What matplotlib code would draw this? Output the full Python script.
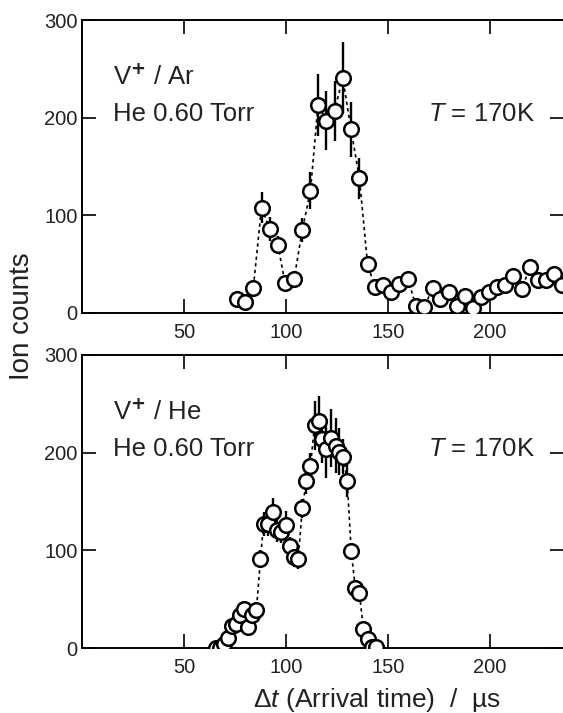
import numpy as np
import matplotlib
matplotlib.use('Agg')
import matplotlib.pyplot as plt

plt.rcParams['font.family'] = ['Liberation Sans', 'DejaVu Sans']
plt.rcParams['mathtext.fontset'] = 'custom'
plt.rcParams['mathtext.rm'] = 'Liberation Sans'
plt.rcParams['mathtext.it'] = 'Liberation Sans:italic'

# V+ / Ar  (upper panel)
ar_t = [76, 80, 84, 88, 92, 96, 99.5, 104, 108, 112, 115.7, 119.8, 123.9, 127.8,
        131.9, 136, 140, 143.5, 147.7, 151.6, 155.6, 159.8, 163.7, 167.8, 172,
        175.5, 179.7, 183.7, 187.6, 191.5, 195.6, 199.7, 203.3, 207.5, 211.4,
        215.7, 219.6, 223.5, 227.5, 231.5, 235.5]
ar_counts = [14, 11, 26, 108, 86, 70, 31, 35, 85, 125, 213, 197, 207, 241,
             188, 138, 50, 27, 29, 22, 30, 35, 7, 6, 26,
             14, 22, 7, 17, 5, 16, 22, 27, 29, 38,
             25, 47, 34, 34, 40, 29]
ar_err = [5, 4, 6, 16, 12, 9, 6, 6, 12, 19, 32, 30, 31, 36,
          28, 21, 8, 5, 5, 4, 5, 6, 3, 3, 5,
          4, 5, 3, 4, 2, 4, 5, 5, 5, 6,
          5, 7, 6, 6, 6, 5]

# V+ / He  (lower panel)
he_t = [65.5, 67.5, 69.5, 71.5, 73.5, 75.5, 77.5, 79.5, 81.5, 83.5, 85.5, 87.5,
        89, 91, 93.5, 95.5, 97.5, 100, 101.8, 103.8, 106, 108, 110, 112, 114,
        116, 117.5, 119.8, 122, 124.3, 126.2, 128.2, 130, 132, 134, 136, 138,
        140, 142, 144]
he_counts = [0, 0, 4, 10, 23, 25, 34, 40, 21, 34, 39, 91,
             127, 127, 139, 121, 119, 126, 104, 93, 91, 143, 171, 186, 228,
             232, 214, 204, 215, 207, 201, 196, 171, 99, 61, 56, 19,
             9, 1.5, 1]
he_err = [1, 1, 2, 3, 4, 4, 5, 5, 4, 5, 5, 9,
          12, 12, 15, 12, 12, 14, 10, 10, 10, 10, 13, 14, 25,
          26, 25, 30, 30, 28, 24, 18, 16, 9, 6, 6, 4,
          3, 1, 1]

x_ticks = [50, 100, 150, 200]
y_ticks = [0, 100, 200, 300]

fig = plt.figure(figsize=(5.63, 7.13), dpi=100)
ax_top = fig.add_axes([82 / 563, 1 - 313 / 713, 482 / 563, 293 / 713])
ax_bot = fig.add_axes([82 / 563, 1 - 648 / 713, 482 / 563, 293 / 713])

txt = '#222222'


def panel(ax, t, counts, err, label):
    ax.plot(t, counts, color='black', lw=1.2, ls=(0, (2, 2)), zorder=2)
    ax.errorbar(t, counts, yerr=err, fmt='none', ecolor='black', elinewidth=1.7,
                capsize=0, zorder=3)
    ax.plot(t, counts, 'o', ms=10.5, mfc='white', mec='black', mew=1.8, zorder=4)
    ax.set_xlim(0, 236.3)
    ax.set_ylim(0, 300)
    ax.set_xticks(x_ticks)
    ax.set_yticks(y_ticks)
    ax.tick_params(direction='in', length=10, width=1.2, labelsize=14.5,
                   top=True, right=True, colors='black', labelcolor=txt)
    ax.tick_params(axis='x', pad=7)
    ax.tick_params(axis='y', pad=3)
    for s in ax.spines.values():
        s.set_linewidth(1.4)
    ax.text(0.065, 0.805, label, transform=ax.transAxes, fontsize=18.5,
            va='center', ha='left', color=txt)
    ax.text(0.065, 0.679, 'He 0.60 Torr', transform=ax.transAxes, fontsize=18.5,
            va='center', ha='left', color=txt)
    ax.text(0.94, 0.679, '$T$ = 170K', transform=ax.transAxes, fontsize=18.5,
            va='center', ha='right', color=txt)


panel(ax_top, ar_t, ar_counts, ar_err, r'V$^{\mathbf{+}}$ / Ar')
panel(ax_bot, he_t, he_counts, he_err, r'V$^{\mathbf{+}}$ / He')

fig.text(22 / 563, 1 - 316 / 713, 'Ion counts', rotation=90, fontsize=20,
         ha='center', va='center', color=txt)
fig.text(377 / 563, 1 - 700 / 713, r'$\Delta t$ (Arrival time)  /  µs', fontsize=19,
         ha='center', va='center', color=txt)

fig.savefig('out.png', dpi=100)
